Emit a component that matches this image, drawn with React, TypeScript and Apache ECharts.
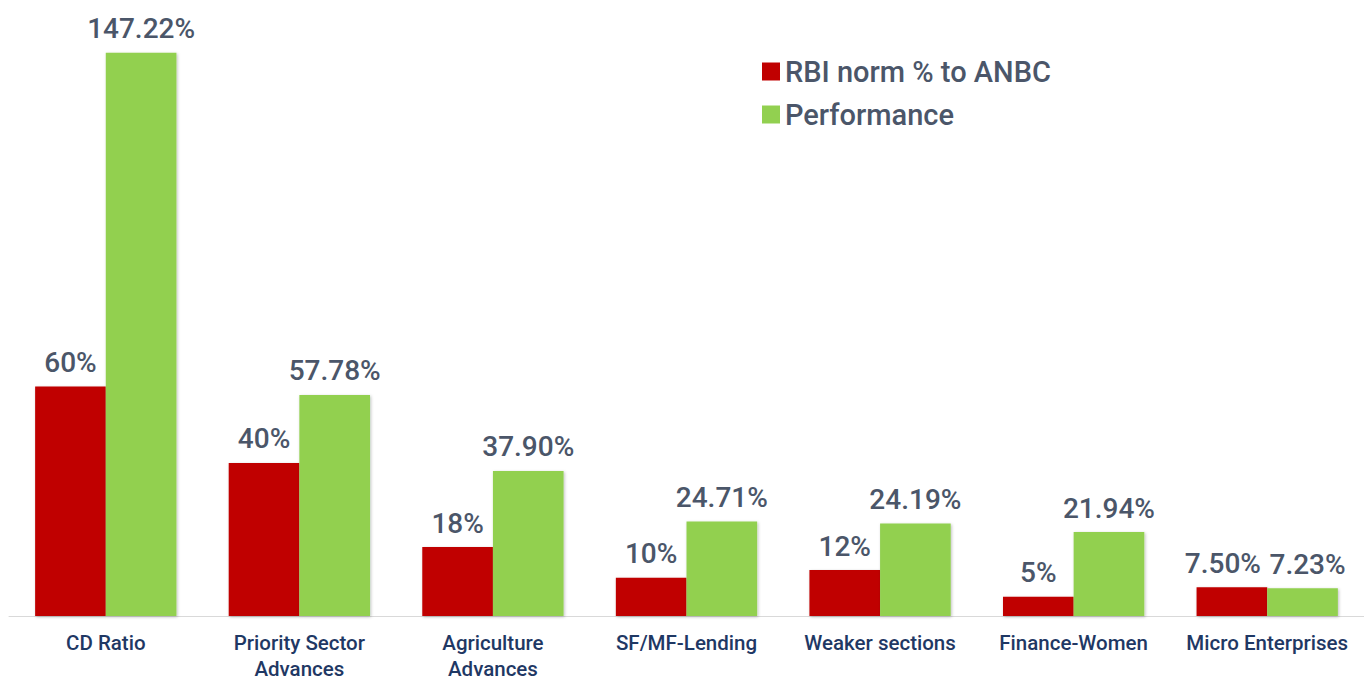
import React, { useEffect, useRef } from "react";
import * as echarts from "echarts";

const categories = [
  "CD Ratio",
  "Priority Sector\nAdvances",
  "Agriculture\nAdvances",
  "SF/MF-Lending",
  "Weaker sections",
  "Finance-Women",
  "Micro Enterprises",
];
const rbiNorm = [60, 40, 18, 10, 12, 5, 7.5];
const performance = [147.22, 57.78, 37.9, 24.71, 24.19, 21.94, 7.23];
const seriesNames = ["RBI norm % to ANBC", "Performance"];

const FONT = "Roboto, 'DejaVu Sans', sans-serif";
const LABEL_COLOR = "#4B5669";

const fmtNorm = (v: number) => (Number.isInteger(v) ? `${v}%` : `${v.toFixed(2)}%`);
const fmtPerf = (v: number) => `${v.toFixed(2)}%`;

export default function App() {
  const ref = useRef<HTMLDivElement>(null);
  useEffect(() => {
    if (!ref.current) return;
    const chart = echarts.init(ref.current, undefined, { renderer: "svg" });
    const shadow = {
      shadowColor: "rgba(0,0,0,0.25)",
      shadowBlur: 3,
      shadowOffsetX: 1,
      shadowOffsetY: 1,
    };
    const lastIdx = categories.length - 1;
    chart.setOption({
      animation: false,
      backgroundColor: "#ffffff",
      textStyle: { fontFamily: FONT },
      legend: {
        orient: "vertical",
        left: 757,
        top: 52,
        itemWidth: 18,
        itemHeight: 18,
        itemGap: 14,
        icon: "rect",
        data: seriesNames,
        textStyle: {
          fontFamily: FONT,
          fontWeight: 500,
          fontSize: 29,
          lineHeight: 28,
          color: LABEL_COLOR,
        },
      },
      grid: { left: 9, right: 0, top: 42, bottom: 61, containLabel: false },
      xAxis: {
        type: "category",
        data: categories,
        axisLine: { lineStyle: { color: "#D9D9D9", width: 1 } },
        axisTick: { show: false },
        axisLabel: {
          interval: 0,
          margin: 14,
          fontFamily: FONT,
          fontWeight: 500,
          fontSize: 20.5,
          lineHeight: 26,
          color: "#1F3864",
        },
      },
      yAxis: {
        type: "value",
        min: 0,
        max: 150,
        show: false,
        splitLine: { show: false },
      },
      series: [
        {
          name: seriesNames[0],
          type: "bar",
          data: rbiNorm.map((v, i) =>
            i === lastIdx ? { value: v, label: { offset: [-9, 0] } } : v
          ),
          barGap: "0%",
          barCategoryGap: "27%",
          itemStyle: { color: "#C00000", ...shadow },
          label: {
            show: true,
            position: "top",
            distance: 10,
            fontFamily: FONT,
            fontWeight: 500,
            fontSize: 28,
            color: LABEL_COLOR,
            formatter: (p: any) => fmtNorm(p.value),
          },
        },
        {
          name: seriesNames[1],
          type: "bar",
          data: performance.map((v, i) =>
            i === lastIdx ? { value: v, label: { offset: [5, 0] } } : v
          ),
          barGap: "0%",
          barCategoryGap: "27%",
          itemStyle: { color: "#92D050", ...shadow },
          label: {
            show: true,
            position: "top",
            distance: 10,
            fontFamily: FONT,
            fontWeight: 500,
            fontSize: 28,
            color: LABEL_COLOR,
            formatter: (p: any) => fmtPerf(p.value),
          },
        },
      ],
    });
    return () => chart.dispose();
  }, []);
  return (
    <div
      ref={ref}
      style={{ position: "fixed", left: 0, top: 0, width: 1364, height: 682 }}
    />
  );
}
